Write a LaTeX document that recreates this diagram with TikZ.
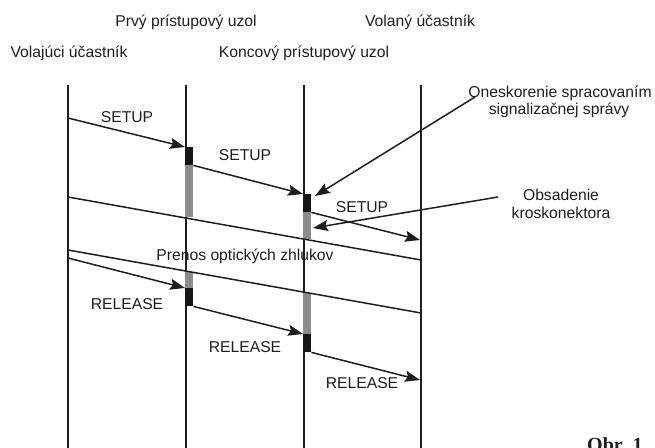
\documentclass[tikz,border=0pt]{standalone}
\usepackage{fontspec}
\setmainfont{Liberation Sans}
\newfontfamily\obrfont{Liberation Serif}
\usetikzlibrary{arrows.meta}
\definecolor{ink}{HTML}{1E1E1E}
\definecolor{proc}{HTML}{161616}
\definecolor{occ}{HTML}{8C8C8C}
\begin{document}
\begin{tikzpicture}[x=1pt,y=-1pt,
  lbl/.style={font=\fontsize{15.7}{18}\selectfont, text=ink, inner sep=0pt, anchor=base},
  life/.style={draw=ink, line width=1.6pt},
  msg/.style={draw=ink, line width=1.5pt, -{Stealth[length=15pt,width=11pt,inset=2.5pt]}},
  ptr/.style={draw=ink, line width=1.5pt, -{Stealth[length=15pt,width=11pt,inset=2.5pt]}},
  band/.style={draw=ink, line width=1.5pt},
  procbox/.style={fill=proc, draw=none, minimum width=8pt, inner sep=0pt, anchor=north west},
  occbox/.style={fill=occ, draw=none, minimum width=8pt, inner sep=0pt, anchor=north west}]
\useasboundingbox (0,0) rectangle (655,447);

% lifelines
\coordinate (l1t) at (68,85);  \coordinate (l1b) at (68,450);
\coordinate (l2t) at (186,85); \coordinate (l2b) at (186,450);
\coordinate (l3t) at (304,85); \coordinate (l3b) at (304,450);
\coordinate (l4t) at (421,85); \coordinate (l4b) at (421,450);
\draw[life] (l1t) -- (l1b);
\draw[life] (l2t) -- (l2b);
\draw[life] (l3t) -- (l3b);
\draw[life] (l4t) -- (l4b);

% headings
\node[lbl] (h2) at (186,27) {Prvý prístupový uzol};
\node[lbl] (h4) at (420,27) {Volaný účastník};
\node[lbl] (h1) at (69,57) {Volajúci účastník};
\node[lbl] (h3) at (304,57) {Koncový prístupový uzol};

% processing / occupation boxes (setup)
\node[procbox, minimum height=18pt] (p1) at (185,147) {};
\node[occbox, minimum height=52pt] (o1) at (185,165) {};
\node[procbox, minimum height=18pt] (p2) at (303,194) {};
\node[occbox, minimum height=27pt] (o2) at (303,212) {};

% boxes (release)
\node[occbox, minimum height=16pt] (ro1) at (185,272) {};
\node[procbox, minimum height=18pt] (rp1) at (185,288) {};
\node[occbox, minimum height=41pt] (ro2) at (303,293) {};
\node[procbox, minimum height=18pt] (rp2) at (303,334) {};

% SETUP messages
\coordinate (s1) at (68,118);
\coordinate (s3) at (420,240);
\draw[msg] (s1) -- (p1.north west);
\draw[msg] (p1.south east) -- (p2.north west);
\draw[msg] (p2.south east) -- (s3);
\node[lbl] (t1) at (127,122) {SETUP};
\node[lbl] (t2) at (245,160) {SETUP};
\node[lbl] (t3) at (362,212) {SETUP};

% optical burst band
\coordinate (bu1) at (68,197); \coordinate (bu2) at (421,260);
\coordinate (bl1) at (68,250); \coordinate (bl2) at (421,313);
\draw[band] (bu1) -- (bu2);
\draw[band] (bl1) -- (bl2);
\node[lbl] (bt) at (245,260) {Prenos optických zhlukov};

% RELEASE messages
\coordinate (r1) at (68,258);
\coordinate (r3) at (420,380);
\draw[msg] (r1) -- (rp1.north west);
\draw[msg] (rp1.south east) -- (rp2.north west);
\draw[msg] (rp2.south east) -- (r3);
\node[lbl] (u1) at (127,309) {RELEASE};
\node[lbl] (u2) at (245,352) {RELEASE};
\node[lbl] (u3) at (362,388) {RELEASE};

% annotations
\node[lbl] (a1) at (560,97) {Oneskorenie spracovaním};
\node[lbl] (a2) at (559,114) {signalizačnej správy};
\node[lbl] (b1) at (561,200) {Obsadenie};
\node[lbl] (b2) at (561,218) {kroskonektora};
\coordinate (a0) at (475,97);
\coordinate (at) at (315,196);
\coordinate (b0) at (498,197);
\coordinate (bt2) at (313,228);
\draw[ptr] (a0) -- (at);
\draw[ptr] (b0) -- (bt2);

% figure caption (cut by the page edge, as in the reference)
\node[font=\obrfont\bfseries\fontsize{20}{24}\selectfont, text=ink, inner sep=0pt, anchor=base west] (obr) at (587,451) {Obr. 1};
\end{tikzpicture}
\end{document}
